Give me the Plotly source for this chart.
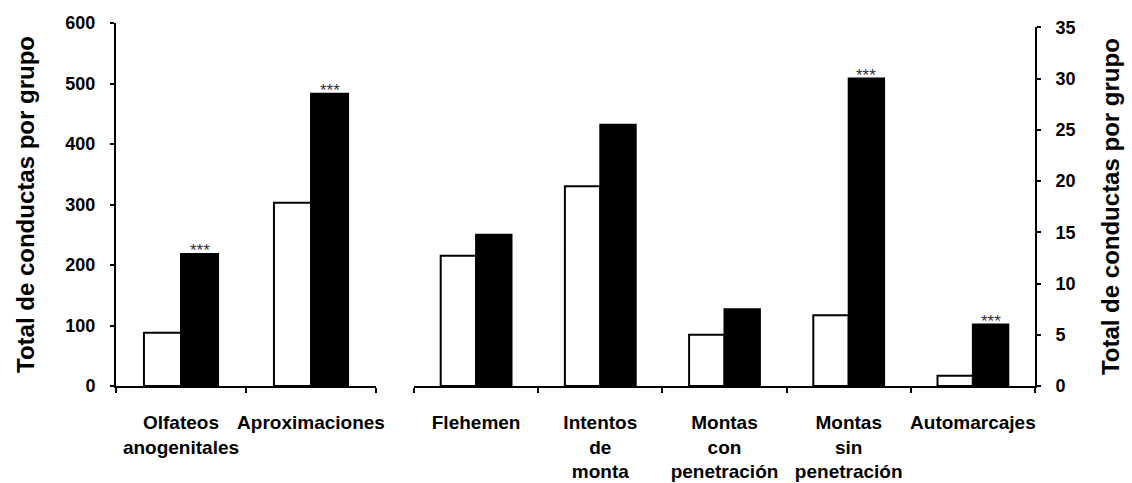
import plotly.graph_objects as go

# Left panel (left axis, 0-600)
cats_left = ["Olfateos<br>anogenitales", "Aproximaciones"]
white_left = [88, 303]
black_left = [218, 483]
sig_left = ["***", "***"]

# Right panel (right axis, 0-35)
cats_right = ["Flehemen", "Intentos<br>de<br>monta", "Montas<br>con<br>penetración",
              "Montas<br>sin<br>penetración", "Automarcajes"]
white_right = [12.7, 19.5, 5.0, 6.9, 1.0]
black_right = [14.75, 25.5, 7.5, 30.0, 6.0]
sig_right = ["", "", "", "***", "***"]

y_left_ticks = [0, 100, 200, 300, 400, 500, 600]
y_right_ticks = [0, 5, 10, 15, 20, 25, 30, 35]
ytitle = "Total de conductas por grupo"

W, H = 1132, 483
L, R, T, B = 116, 97, 23, 97
pw = W - L - R
ph = H - T - B
BARGAP = 0.43

FAM = "Liberation Sans"
fig = go.Figure()
line = dict(color="black", width=2)
fig.add_bar(x=cats_left, y=white_left, marker=dict(color="white", line=line),
            xaxis="x", yaxis="y", showlegend=False)
fig.add_bar(x=cats_left, y=black_left, marker=dict(color="black", line=line),
            xaxis="x", yaxis="y", showlegend=False)
fig.add_bar(x=cats_right, y=white_right, marker=dict(color="white", line=line),
            xaxis="x2", yaxis="y2", showlegend=False)
fig.add_bar(x=cats_right, y=black_right, marker=dict(color="black", line=line),
            xaxis="x2", yaxis="y2", showlegend=False)

left_end = (376 - L) / pw
right_start = (414 - L) / pw

# significance marks over the black bars
sigfont = dict(size=17, color="#333333", family=FAM)
cw_left = left_end * pw / len(cats_left)
cw_right = (1 - right_start) * pw / len(cats_right)
annos = []
for c, v, s in zip(cats_left, black_left, sig_left):
    if s:
        annos.append(dict(x=c, y=v, xref="x", yref="y", text=s, showarrow=False,
                          yanchor="bottom", yshift=-8, xshift=(1 - BARGAP) / 4 * cw_left,
                          font=sigfont))
for c, v, s in zip(cats_right, black_right, sig_right):
    if s:
        annos.append(dict(x=c, y=v, xref="x2", yref="y2", text=s, showarrow=False,
                          yanchor="bottom", yshift=-8, xshift=(1 - BARGAP) / 4 * cw_right,
                          font=sigfont))

tickfont = dict(family=FAM, size=18, color="black", weight="bold")
catfont = dict(family=FAM, size=19, color="black", weight="bold")
titlefont = dict(family=FAM, size=24, color="black", weight="bold")
xcommon = dict(type="category", showline=True, linecolor="black", linewidth=2,
               ticks="outside", ticklen=5, tickwidth=2, tickcolor="black",
               tickson="boundaries", showgrid=False, zeroline=False,
               tickfont=catfont, fixedrange=True, automargin=False,
               tickangle=0, ticklabelstandoff=18)

fig.update_layout(
    width=W, height=H,
    margin=dict(l=L, r=R, t=T, b=B, pad=0),
    paper_bgcolor="white", plot_bgcolor="white",
    bargap=BARGAP, bargroupgap=0,
    barmode="group",
    font=dict(family=FAM, color="black"),
    annotations=annos,
    xaxis=dict(domain=[0, left_end], anchor="y", **xcommon),
    xaxis2=dict(domain=[right_start, 1], anchor="y2", **xcommon),
    yaxis=dict(domain=[0, 1], range=[0, 600], tickvals=y_left_ticks,
               showline=True, linecolor="black", linewidth=2,
               ticks="outside", ticklen=4, tickwidth=2, tickcolor="black",
               showgrid=False, zeroline=False, tickfont=tickfont,
               ticklabelstandoff=11, automargin=False,
               title=dict(text=ytitle, font=titlefont, standoff=24),
               anchor="x"),
    yaxis2=dict(domain=[0, (386 - 27.3) / ph], range=[0, 35], tickvals=y_right_ticks,
                side="right", anchor="x2",
                showline=True, linecolor="black", linewidth=2,
                ticks="outside", ticklen=4, tickwidth=2, tickcolor="black",
                showgrid=False, zeroline=False, tickfont=tickfont,
                ticklabelstandoff=11, automargin=False,
                title=dict(text=ytitle, font=titlefont, standoff=28)),
)

fig.write_html("out.html", config={"displayModeBar": False},
               post_script="document.body.style.margin='0';")
